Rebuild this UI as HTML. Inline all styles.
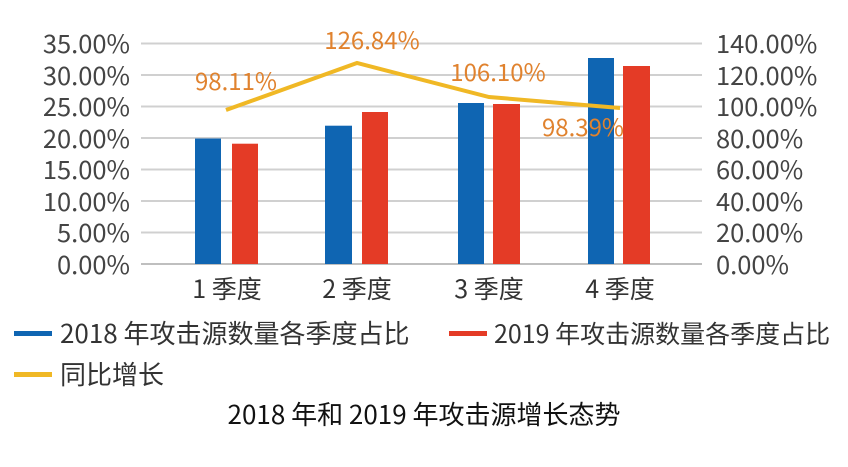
<!DOCTYPE html>
<html><head><meta charset="utf-8"><style>
body{margin:0;background:#fff;}
svg text{font-family:"Noto Sans CJK SC","Liberation Sans",sans-serif;}
</style></head><body>
<svg width="848" height="462" xmlns="http://www.w3.org/2000/svg">
<rect width="848" height="462" fill="#fff"/>
<g stroke="#d0d0d0" stroke-width="2">
<line x1="141" x2="702" y1="43.5" y2="43.5"/>
<line x1="141" x2="702" y1="75" y2="75"/>
<line x1="141" x2="702" y1="106.5" y2="106.5"/>
<line x1="141" x2="702" y1="138" y2="138"/>
<line x1="141" x2="702" y1="169.5" y2="169.5"/>
<line x1="141" x2="702" y1="201" y2="201"/>
<line x1="141" x2="702" y1="232.5" y2="232.5"/>
</g>
<line x1="141" x2="702" y1="264" y2="264" stroke="#bfbfbf" stroke-width="2"/>
<g font-size="25.5" fill="#444" text-anchor="end">
<text x="130" y="53">35.00%</text><text x="130" y="85">30.00%</text><text x="130" y="116">25.00%</text><text x="130" y="148">20.00%</text><text x="130" y="179">15.00%</text><text x="130" y="211">10.00%</text><text x="130" y="242">5.00%</text><text x="130" y="274">0.00%</text>
</g>
<g font-size="25.5" fill="#444" text-anchor="start">
<text x="716" y="53">140.00%</text><text x="716" y="85">120.00%</text><text x="716" y="116">100.00%</text><text x="716" y="148">80.00%</text><text x="716" y="179">60.00%</text><text x="716" y="211">40.00%</text><text x="716" y="242">20.00%</text><text x="716" y="274">0.00%</text>
</g>
<g fill="#0f65b2">
<rect x="195" y="138.5" width="26" height="125.5"/>
<rect x="325" y="125.7" width="27" height="138.3"/>
<rect x="458" y="103" width="26" height="161"/>
<rect x="588" y="58" width="26" height="206"/>
</g>
<g fill="#e43b26">
<rect x="232" y="143.7" width="26" height="120.3"/>
<rect x="362" y="112" width="26" height="152"/>
<rect x="493" y="104" width="27" height="160"/>
<rect x="623" y="66" width="27" height="198"/>
</g>
<polyline points="226,110 357,63 489,97 620,108" fill="none" stroke="#f0b825" stroke-width="4"/>
<g font-size="24" fill="#e0822e" text-anchor="middle">
<text x="236" y="90">98.11%</text>
<text x="372" y="49">126.84%</text>
<text x="498" y="81">106.10%</text>
<text x="583" y="136">98.39%</text>
</g>
<g font-size="25" fill="#333" text-anchor="middle">
<text x="227" y="298">1 季度</text><text x="357" y="298">2 季度</text><text x="489" y="298">3 季度</text><text x="620" y="298">4 季度</text>
</g>
<rect x="14" y="331" width="38" height="5" fill="#0f65b2"/>
<text x="60" y="343" font-size="26" fill="#333">2018 年攻击源数量各季度占比</text>
<rect x="449" y="331" width="38" height="5" fill="#e43b26"/>
<text x="494" y="343" font-size="25" fill="#333">2019 年攻击源数量各季度占比</text>
<rect x="14" y="372" width="38" height="5" fill="#f0b825"/>
<text x="60" y="384" font-size="26" fill="#333">同比增长</text>
<text x="424" y="424" font-size="26" fill="#111" text-anchor="middle">2018 年和 2019 年攻击源增长态势</text>
</svg>
</body></html>
